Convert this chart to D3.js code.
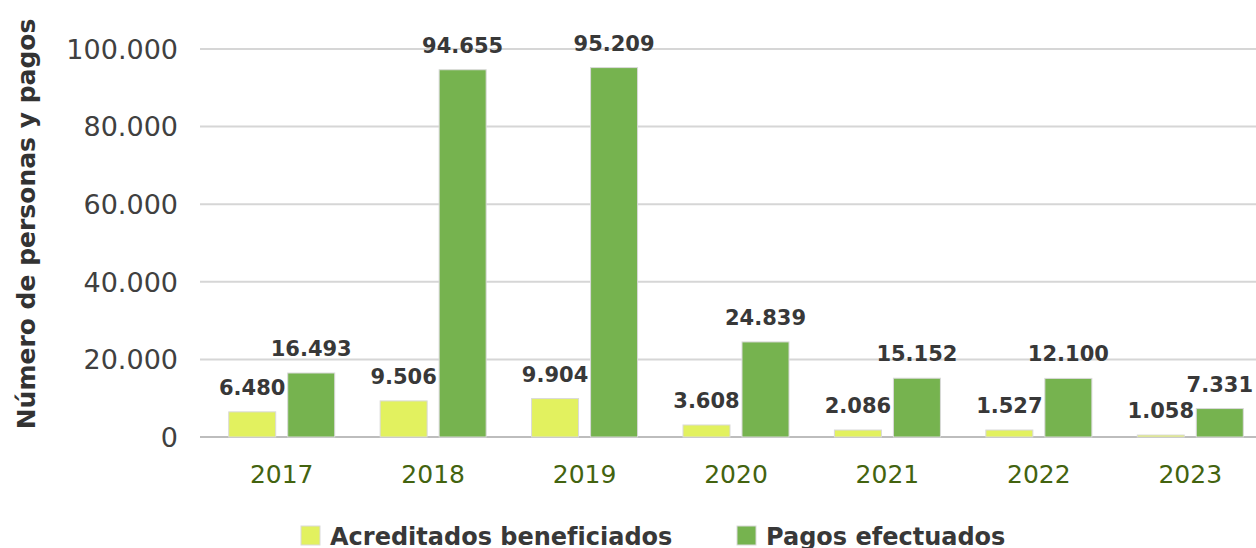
<!DOCTYPE html>
<html lang="es">
<head>
<meta charset="UTF-8">
<title>Acreditados y pagos</title>
<script src="https://d3js.org/d3.v7.min.js"></script>
<style>
  body { margin: 0; background: #fff; }
  svg { display: block; }
</style>
</head>
<body>
<div id="chart"></div>
<script>
// datos
var anios = ["2017", "2018", "2019", "2020", "2021", "2022", "2023"];
var acreditados = [6480, 9506, 9904, 3608, 2086, 1527, 1058];
var pagos = [16493, 94655, 95209, 24839, 15152, 12100, 7331];
// alturas de barra tal como aparecen (2022 se dibuja a la altura de ~15.100)
var acreditadosBarra = [6480, 9300, 9904, 3100, 1800, 1800, 500];
var pagosBarra = [16493, 94655, 95209, 24500, 15152, 15100, 7331];
var ticksY = [0, 20000, 40000, 60000, 80000, 100000];
var series = ["Acreditados beneficiados", "Pagos efectuados"];
var colores = ["#e2f15f", "#76b34f"];

var W = 1256, H = 548;
var margin = { left: 206, right: -10, top: 49, bottom: 111 };
var fuente = "'DejaVu Sans', sans-serif";

var svg = d3.select("#chart").append("svg").attr("width", W).attr("height", H);

var x = d3.scaleBand().domain(anios).range([margin.left, W - margin.right]).padding(0);
var y = d3.scaleLinear().domain([0, 100000]).range([H - margin.bottom, margin.top]);

var fmt = d3.formatLocale({ decimal: ",", thousands: ".", grouping: [3], currency: ["", ""] }).format(",d");

// gridlines
svg.append("g").selectAll("line").data(ticksY).enter().append("line")
  .attr("x1", 200).attr("x2", W)
  .attr("y1", function(d) { return y(d); }).attr("y2", function(d) { return y(d); })
  .attr("stroke", function(d) { return d === 0 ? "#bdbdbd" : "#d6d6d6"; })
  .attr("stroke-width", 2);

// y ticks
svg.append("g").selectAll("text").data(ticksY).enter().append("text")
  .attr("x", 178).attr("y", function(d) { return y(d); })
  .attr("dy", "0.36em").attr("text-anchor", "end")
  .style("font-family", fuente)
  .style("font-size", "27px").style("fill", "#404040")
  .text(function(d) { return fmt(d); });

// y title
svg.append("text")
  .attr("transform", "translate(35,224) rotate(-90)")
  .attr("text-anchor", "middle")
  .style("font-family", fuente).style("font-weight", "bold")
  .style("font-size", "25px").style("fill", "#333")
  .text("Número de personas y pagos");

// bars
var bw = 47, gap = 12;
var grupos = svg.append("g").selectAll("g").data(anios).enter().append("g");

function barra(serie, vals, labs, off) {
  grupos.append("rect")
    .attr("x", function(d) { return x(d) + x.bandwidth() / 2 + off; })
    .attr("y", function(d, i) { return y(vals[i]); })
    .attr("width", bw)
    .attr("height", function(d, i) { return y(0) - y(vals[i]); })
    .attr("fill", colores[serie])
    .attr("stroke", "#d9d9d9").attr("stroke-width", 1);
  grupos.append("text")
    .attr("x", function(d) { return x(d) + x.bandwidth() / 2 + off + bw / 2; })
    .attr("y", function(d, i) { return y(vals[i]) - 17; })
    .attr("text-anchor", "middle")
    .style("font-family", fuente).style("font-weight", "bold")
    .style("font-size", "21px").style("fill", "#383838")
    .text(function(d, i) { return fmt(labs[i]); });
}
barra(0, acreditadosBarra, acreditados, -bw - gap / 2);
barra(1, pagosBarra, pagos, gap / 2);

// x labels
svg.append("g").selectAll("text").data(anios).enter().append("text")
  .attr("x", function(d) { return x(d) + x.bandwidth() / 2; })
  .attr("y", 483)
  .attr("text-anchor", "middle")
  .style("font-family", fuente)
  .style("font-size", "25px").style("fill", "#43630f")
  .text(function(d) { return d; });

// legend
var leg = svg.append("g").selectAll("g").data(series).enter().append("g")
  .attr("transform", function(d, i) { return "translate(" + [301, 737][i] + ",526)"; });
leg.append("rect").attr("width", 19).attr("height", 19)
  .attr("fill", function(d, i) { return colores[i]; })
  .attr("stroke", "#d9d9d9").attr("stroke-width", 1);
leg.append("text").attr("x", 29).attr("y", 19)
  .style("font-family", fuente).style("font-weight", "bold")
  .style("font-size", "24px").style("fill", "#383838")
  .text(function(d) { return d; });
</script>
</body>
</html>
